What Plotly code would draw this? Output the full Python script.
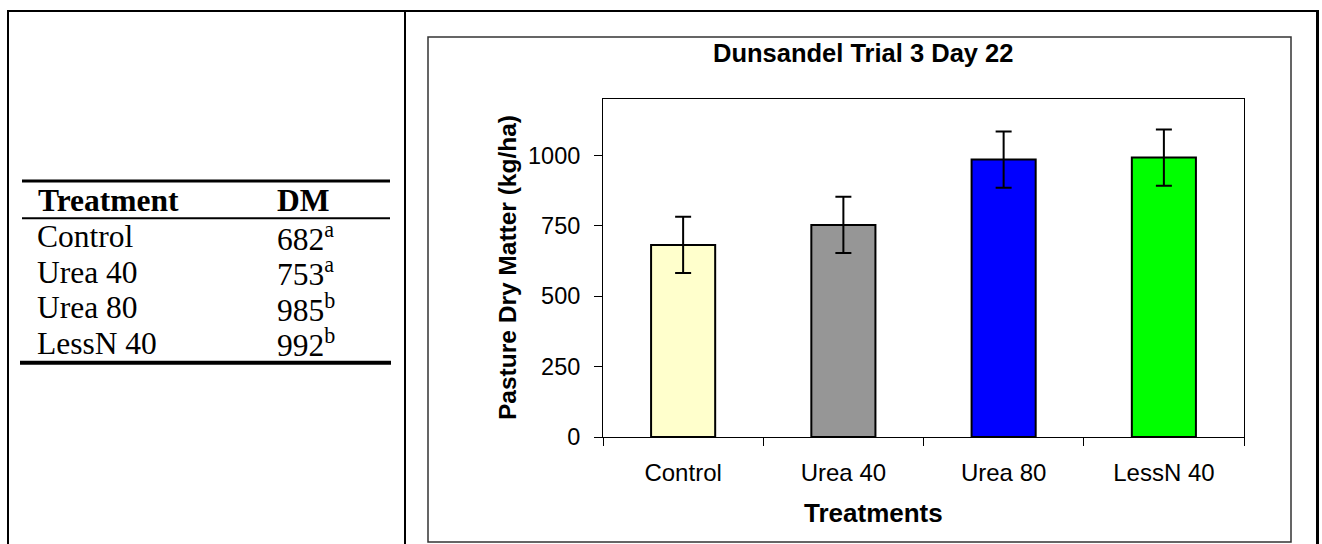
import plotly.graph_objects as go

# ---- data ----
treatments = ["Control", "Urea 40", "Urea 80", "LessN 40"]
dry_matter = [682, 753, 985, 992]
error_se = [100, 100, 100, 100]
sig_letters = ["a", "a", "b", "b"]
y_ticks = [0, 250, 500, 750, 1000]

bar_colors = ["#FFFFCC", "#969696", "#0000FF", "#00FF00"]

W, H = 1322, 544
PL, PR, PT, PB = 603, 1244, 99, 437  # plot area pixels

def px(x):
    return (x - PL) / (PR - PL)

def py(y):
    return (PB - y) / (PB - PT)

fig = go.Figure()
fig.add_trace(go.Bar(
    x=treatments, y=dry_matter, width=0.4,
    marker=dict(color=bar_colors, line=dict(color="black", width=2)),
    error_y=dict(type="data", array=error_se, visible=True,
                 color="black", thickness=2, width=8),
    showlegend=False, hoverinfo="x+y",
))

sans = "Liberation Sans, Arial, sans-serif"
serif = "Liberation Serif, Times New Roman, serif"

fig.update_layout(
    width=W, height=H, autosize=False,
    margin=dict(l=PL, r=W - PR, t=PT, b=H - PB, pad=0),
    paper_bgcolor="white", plot_bgcolor="white",
    font=dict(family=sans, color="black"),
    xaxis=dict(
        type="category", range=[-0.5, 3.5], tickson="boundaries",
        ticks="outside", ticklen=8, tickwidth=1, tickcolor="black",
        showline=True, linecolor="black", linewidth=1, mirror=True,
        showgrid=False, zeroline=False,
        tickfont=dict(family=sans, size=24, color="black"),
        ticklabelstandoff=14,
    ),
    yaxis=dict(
        range=[0, 1200], tickvals=y_ticks,
        ticks="outside", ticklen=8, tickwidth=1, tickcolor="black",
        showline=True, linecolor="black", linewidth=1, mirror=True,
        showgrid=False, zeroline=False,
        tickfont=dict(family=sans, size=23.5, color="black"),
        ticklabelstandoff=9,
    ),
)

shapes = []
# outer frame (thick) and divider
shapes.append(dict(type="line", xref="paper", yref="paper",
                   x0=px(8), x1=px(8), y0=py(11), y1=py(560),
                   line=dict(color="black", width=2)))
shapes.append(dict(type="line", xref="paper", yref="paper",
                   x0=px(7), x1=px(1319), y0=py(11), y1=py(11),
                   line=dict(color="black", width=2)))
shapes.append(dict(type="line", xref="paper", yref="paper",
                   x0=px(1317.5), x1=px(1317.5), y0=py(10), y1=py(560),
                   line=dict(color="black", width=3)))
shapes.append(dict(type="line", xref="paper", yref="paper",
                   x0=px(405), x1=px(405), y0=py(11), y1=py(560),
                   line=dict(color="black", width=2)))
# chart area box
shapes.append(dict(type="rect", xref="paper", yref="paper",
                   x0=px(428), x1=px(1291), y0=py(37), y1=py(542),
                   line=dict(color="#333333", width=1.5)))
# table rules
shapes.append(dict(type="line", xref="paper", yref="paper",
                   x0=px(22), x1=px(390), y0=py(181), y1=py(181),
                   line=dict(color="black", width=3)))
shapes.append(dict(type="line", xref="paper", yref="paper",
                   x0=px(22), x1=px(390), y0=py(218.3), y1=py(218.3),
                   line=dict(color="black", width=2)))
shapes.append(dict(type="line", xref="paper", yref="paper",
                   x0=px(20), x1=px(391), y0=py(362.7), y1=py(362.7),
                   line=dict(color="black", width=4)))
fig.update_layout(shapes=shapes)

ann = []
# chart title
ann.append(dict(text="<b>Dunsandel Trial 3 Day 22</b>", xref="paper", yref="paper",
                x=px(863), y=py(53), xanchor="center", yanchor="middle",
                showarrow=False, font=dict(family=sans, size=25.5, color="black")))
# axis titles
ann.append(dict(text="<b>Pasture Dry Matter (kg/ha)</b>", xref="paper", yref="paper",
                x=px(507), y=py(268), xanchor="center", yanchor="middle",
                textangle=-90, showarrow=False,
                font=dict(family=sans, size=24.5, color="black")))
ann.append(dict(text="<b>Treatments</b>", xref="paper", yref="paper",
                x=px(873), y=py(513), xanchor="center", yanchor="middle",
                showarrow=False, font=dict(family=sans, size=26, color="black")))
# table header
ann.append(dict(text="<b>Treatment</b>", xref="paper", yref="paper",
                x=px(36), y=py(200), xanchor="left", yanchor="middle",
                showarrow=False, font=dict(family=serif, size=31.5, color="black")))
ann.append(dict(text="<b>DM</b>", xref="paper", yref="paper",
                x=px(275), y=py(200), xanchor="left", yanchor="middle",
                showarrow=False, font=dict(family=serif, size=31.5, color="black")))
row_y = [236.5, 272, 307.5, 343]
for name, val, let, yy in zip(treatments, dry_matter, sig_letters, row_y):
    ann.append(dict(text=name, xref="paper", yref="paper",
                    x=px(35), y=py(yy), xanchor="left", yanchor="middle",
                    showarrow=False, font=dict(family=serif, size=31.5, color="black")))
    ann.append(dict(text=f"{val}<sup>{let}</sup>", xref="paper", yref="paper",
                    x=px(275), y=py(yy), xanchor="left", yanchor="middle",
                    showarrow=False, font=dict(family=serif, size=31.5, color="black")))
fig.update_layout(annotations=ann)

fig.write_html("out.html", config={"displayModeBar": False},
               post_script="document.body.style.margin='0';")
